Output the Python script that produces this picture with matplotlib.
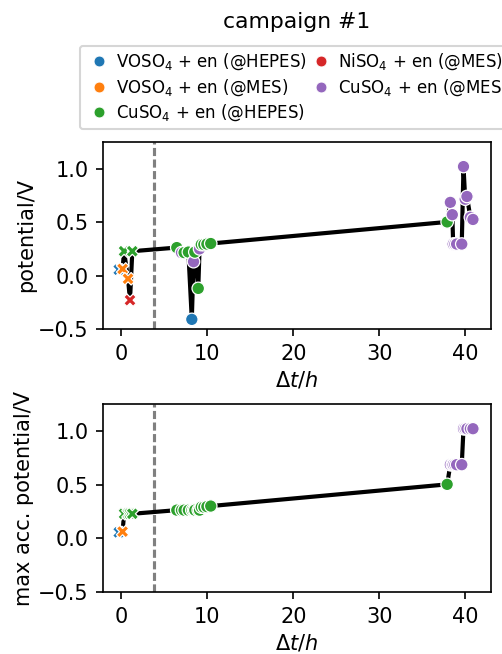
import numpy as np
import matplotlib
matplotlib.use("Agg")
import matplotlib.pyplot as plt
from matplotlib.lines import Line2D

plt.rcParams["font.family"] = ["DejaVu Sans"]
plt.rcParams["font.size"] = 10

# ---- data ----
series_names = [
    "VOSO$_4$ + en (@HEPES)",
    "VOSO$_4$ + en (@MES)",
    "CuSO$_4$ + en (@HEPES)",
    "NiSO$_4$ + en (@MES)",
    "CuSO$_4$ + en (@MES)",
]
series_colors = ["#1f77b4", "#ff7f0e", "#2ca02c", "#d62728", "#9467bd"]

time_h = [
    -0.30, 0.15, 0.32, 0.78, 1.01, 1.28,
    6.45, 7.00, 7.30, 7.80, 8.20, 8.40, 8.55, 8.95, 9.10, 9.30, 9.60, 9.95, 10.40,
    37.90, 38.27, 38.50, 38.60, 38.80, 39.00, 39.60, 39.80, 40.00, 40.20, 40.60, 40.90,
]
potential_V = [
    0.055, 0.062, 0.228, -0.030, -0.230, 0.228,
    0.262, 0.215, 0.215, 0.220, -0.410, 0.130, 0.220, -0.120, 0.250, 0.290, 0.290, 0.295, 0.300,
    0.502, 0.685, 0.570, 0.295, 0.295, 0.295, 0.295, 1.020, 0.715, 0.740, 0.545, 0.525,
]
series_of_point = [
    0, 1, 2, 1, 3, 2,
    2, 4, 2, 2, 0, 4, 2, 2, 4, 2, 2, 2, 2,
    2, 4, 4, 4, 4, 4, 4, 4, 4, 4, 4, 4,
]
marker_of_point = ["X"] * 6 + ["o"] * 25
separator_h = 3.8

title = "campaign #1"
ylabel_top = "potential/V"
ylabel_bottom = "max acc. potential/V"
xlabel = r"$\Delta t$/$h$"
yticks = [-0.5, 0.0, 0.5, 1.0]
xticks = [0, 10, 20, 30, 40]

# ---- derived: running maximum and which point holds it ----
t = np.array(time_h)
v = np.array(potential_V)
s = np.array(series_of_point)
mk = np.array(marker_of_point)
src = np.zeros(len(v), dtype=int)
best = 0
for i in range(len(v)):
    if v[i] >= v[best]:
        best = i
    src[i] = best
v_max = v[src]
s_max = s[src]

W, H, DPI = 502, 654, 150
fig = plt.figure(figsize=(W / DPI, H / DPI), dpi=DPI)

left, width = 103 / W, 388 / W
ax1 = fig.add_axes([left, (H - 329) / H, width, 187 / H])
ax2 = fig.add_axes([left, (H - 592) / H, width, 188 / H])


def draw(ax, tt, vv, ss):
    ax.axvline(separator_h, color="gray", ls=(0, (2.6, 1.1)), lw=1.5, zorder=1)
    ax.plot(tt, vv, color="k", lw=2.0, zorder=2, solid_joinstyle="round")
    for m in ["X", "o"]:
        sel = mk == m
        ax.scatter(tt[sel], vv[sel], c=[series_colors[k] for k in ss[sel]],
                   marker=m, s=36, edgecolors="w", linewidths=0.6, zorder=3)
    ax.set_xlim(-2.13, 43.0)
    ax.set_ylim(-0.5, 1.25)
    ax.set_yticks(yticks)
    ax.set_xticks(xticks)
    ax.set_xlabel(xlabel, labelpad=3)


draw(ax1, t, v, s)
ax1.set_ylabel(ylabel_top, labelpad=1)
draw(ax2, t, v_max, s_max)
ax2.set_ylabel(ylabel_bottom, labelpad=2)

handles = [Line2D([], [], ls="none", marker="o", color=c, markersize=5.2,
                  markeredgecolor="w", markeredgewidth=0.4) for c in series_colors]
ax1.legend(handles, series_names, loc="lower center", bbox_to_anchor=(0.5, 1.025),
           ncol=2, fontsize=8, handlelength=1.6, handletextpad=0.2,
           columnspacing=0.06, labelspacing=0.3, borderpad=0.35)

fig.text(left + width / 2, 1 - 22 / H, title, ha="center", va="center", fontsize=10.5)

fig.savefig("out.png", dpi=DPI)
